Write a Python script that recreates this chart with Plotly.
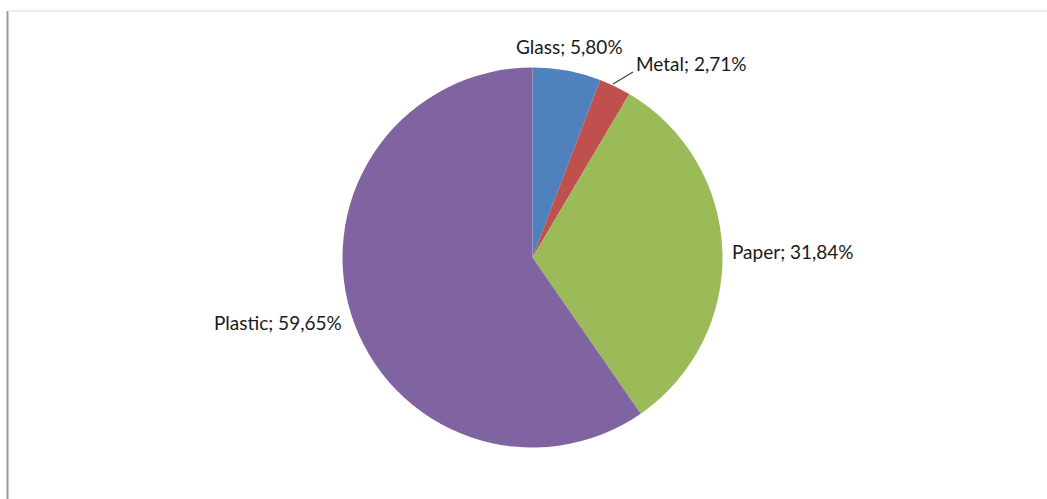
import plotly.graph_objects as go

# Waste composition by material
materials = ["Glass", "Metal", "Paper", "Plastic"]
shares = [5.80, 2.71, 31.84, 59.65]
colors = ["#4F81BD", "#C0504D", "#9BBB59", "#8064A2"]

W, H = 1047, 499


def px(x):
    return x / W


def py(y):
    return 1 - y / H


fig = go.Figure(
    go.Pie(
        labels=materials,
        values=shares,
        sort=False,
        direction="clockwise",
        rotation=0,
        marker=dict(colors=colors, line=dict(width=0)),
        textinfo="none",
        hoverinfo="label+percent",
        domain=dict(x=[px(342.5), px(722.5)], y=[py(447.5), py(67.5)]),
        showlegend=False,
    )
)

# Label placement for each slice (pixel centres)
label_pos = {
    "Glass": (569, 47),
    "Metal": (691, 63),
    "Paper": (793, 252),
    "Plastic": (278, 322),
}

annotations = []
for name, val in zip(materials, shares):
    x, y = label_pos[name]
    annotations.append(
        dict(
            x=px(x), y=py(y), xref="paper", yref="paper",
            text=f"{name}; {val:.2f}%".replace(".", ","),
            showarrow=False,
            font=dict(family="Lato, Carlito, sans-serif", size=19, color="#1a1a1a"),
            xanchor="center", yanchor="middle",
        )
    )

shapes = [
    # leader line for the small Metal slice
    dict(type="line", xref="paper", yref="paper",
         x0=px(613), y0=py(84), x1=px(633), y1=py(72),
         line=dict(color="#404040", width=1.2)),
    # chart frame: left edge and top edge
    dict(type="line", xref="paper", yref="paper",
         x0=px(7.5), y0=py(11), x1=px(7.5), y1=0,
         line=dict(color="#9a9a9a", width=2)),
    dict(type="line", xref="paper", yref="paper",
         x0=px(8), y0=py(11), x1=1, y1=py(11),
         line=dict(color="#e6e6e6", width=1.5)),
]

fig.update_layout(
    width=W, height=H,
    margin=dict(l=0, r=0, t=0, b=0),
    paper_bgcolor="white",
    plot_bgcolor="white",
    annotations=annotations,
    shapes=shapes,
)

fig.write_html("out.html")
